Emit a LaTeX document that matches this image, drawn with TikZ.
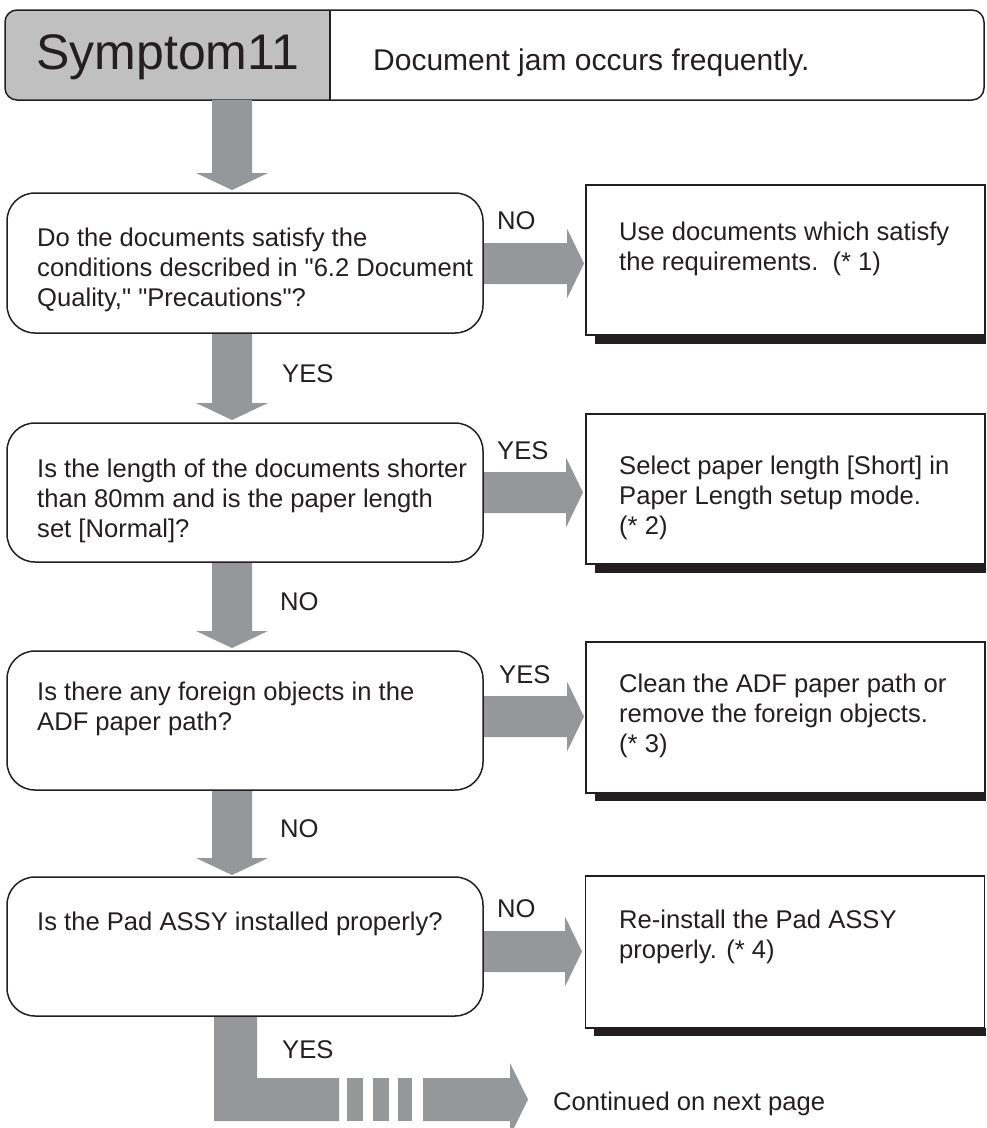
\documentclass[tikz,border=0pt]{standalone}
\usepackage{fontspec}
\setmainfont{Liberation Sans}[Ligatures=TeXOff]
\definecolor{arrowgray}{RGB}{150,151,153}
\definecolor{hdrgray}{RGB}{192,192,193}
\definecolor{ink}{RGB}{35,31,32}
\newcommand\bodyfont{\fontsize{25.6pt}{30pt}\selectfont}
\newcommand\blockdown[3]{% x, ytop, ybottom
  \fill[arrowgray] ({#1-20},#2) -- ({#1+20},#2) -- ({#1+20},{#3-17}) -- ({#1+36},{#3-17}) -- (#1,#3) -- ({#1-36},{#3-17}) -- ({#1-20},{#3-17}) -- cycle;}
\newcommand\blockright[3]{% y, xleft, xright
  \fill[arrowgray] (#2,{#1-20.5}) -- ({#3-17},{#1-20.5}) -- ({#3-17},{#1-35}) -- (#3,#1) -- ({#3-17},{#1+35}) -- ({#3-17},{#1+20.5}) -- (#2,{#1+20.5}) -- cycle;}
\begin{document}
\begin{tikzpicture}[x=1pt,y=-1pt,
  txt/.style={anchor=base west, inner sep=0pt, font=\bodyfont, text=ink},
  dbox/.style={draw=ink, line width=1.5pt, rounded corners=28pt, fill=white, inner sep=0pt, minimum width=476pt},
  rbox/.style={draw=ink, line width=1.2pt, fill=white, inner sep=0pt, minimum width=399pt},
  shadowbar/.style={fill=ink}]
\useasboundingbox (0,0) rectangle (986,1128);

% header
\begin{scope}
  \clip (0,0) rectangle (330,110);
  \fill[hdrgray, rounded corners=12pt] (5,10) rectangle (984,100);
\end{scope}
\draw[ink, line width=1.5pt, rounded corners=12pt] (5,10) rectangle (984,100);
\draw[ink, line width=1.2pt] (330,10) -- (330,100);
\node[anchor=base, inner sep=0pt, font=\fontsize{50pt}{50pt}\selectfont, text=ink] (sym) at (168,69) {Symptom11};
\node[anchor=base west, inner sep=0pt, font=\fontsize{30pt}{30pt}\selectfont, text=ink] (sdesc) at (373,70) {Document jam occurs frequently.};

% block arrows
\blockdown{232}{100}{190}
\blockdown{232}{333}{420}
\blockdown{232}{562}{648}
\blockdown{232}{790}{875}
\blockright{263.5}{483}{584}
\blockright{492.5}{483}{583}
\blockright{716.5}{483}{584}
\blockright{951.5}{483}{582}

% bottom continuation arrow
\fill[arrowgray] (214,1017) -- (257,1017) -- (257,1078) -- (339,1078) -- (339,1121) -- (214,1121) -- cycle;
\fill[arrowgray] (347,1078) rectangle (363,1121);
\fill[arrowgray] (373,1078) rectangle (389,1121);
\fill[arrowgray] (398,1078) rectangle (412,1121);
\fill[arrowgray] (423,1078) -- (510,1078) -- (510,1063) -- (528,1099.5) -- (510,1136) -- (510,1121) -- (423,1121) -- cycle;

% decision boxes
\node[dbox, minimum height=140pt] (d1) at (245,263) {};
\node[dbox, minimum height=139pt] (d2) at (245,492.5) {};
\node[dbox, minimum height=139pt] (d3) at (245,720.5) {};
\node[dbox, minimum height=139pt] (d4) at (245,946.5) {};

% result boxes with shadows
\fill[shadowbar] (595,335) rectangle (986,344);
\fill[shadowbar] (595,564) rectangle (986,573);
\fill[shadowbar] (595,793) rectangle (986,801);
\fill[shadowbar] (594,1028) rectangle (986,1036);
\node[rbox, minimum height=150pt] (r1) at (785.5,260) {};
\node[rbox, minimum height=150pt] (r2) at (785.5,489) {};
\node[rbox, minimum height=151pt] (r3) at (785.5,717.5) {};
\node[rbox, minimum height=152pt] (r4) at (785,952) {};

% decision texts
\node[txt] (t1) at (37,246) {\parbox[t]{446pt}{\raggedright Do the documents satisfy the\\conditions described in "6.2 Document\\Quality," "Precautions"?}};
\node[txt] (t2) at (37,477) {\parbox[t]{446pt}{\raggedright Is the length of the documents shorter\\than 80mm and is the paper length\\set [Normal]?}};
\node[txt] (t3) at (37,700) {\parbox[t]{446pt}{\raggedright Is there any foreign objects in the\\ADF paper path?}};
\node[txt] (t4) at (37,930) {Is the Pad ASSY installed properly?};

% result texts
\node[txt] (u1) at (619,240) {\parbox[t]{360pt}{\raggedright Use documents which satisfy\\the requirements.\ \ (* 1)}};
\node[txt] (u2) at (619,474) {\parbox[t]{360pt}{\raggedright Select paper length [Short] in\\Paper Length setup mode.\\(* 2)}};
\node[txt] (u3) at (619,692) {\parbox[t]{360pt}{\raggedright Clean the ADF paper path or\\remove the foreign objects.\\(* 3)}};
\node[txt] (u4) at (619,928) {\parbox[t]{360pt}{\raggedright Re-install the Pad ASSY\\properly. (* 4)}};

% labels
\node[txt] (l1) at (282,382) {YES};
\node[txt] (l2) at (280,610) {NO};
\node[txt] (l3) at (280,837) {NO};
\node[txt] (l4) at (282,1058) {YES};
\node[txt] (m1) at (497,229) {NO};
\node[txt] (m2) at (497,459) {YES};
\node[txt] (m3) at (499,683) {YES};
\node[txt] (m4) at (497,917) {NO};
\node[txt] (cont) at (553,1110) {Continued on next page};
\end{tikzpicture}
\end{document}
